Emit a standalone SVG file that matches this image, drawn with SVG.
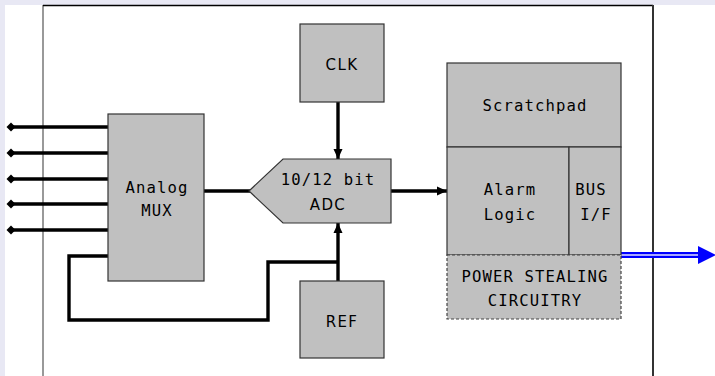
<svg xmlns="http://www.w3.org/2000/svg" width="715" height="376" viewBox="0 0 715 376">
  <style>
    .blk { fill: #c0c0c0; stroke: #333333; stroke-width: 1.2; }
    .dash { fill: #c0c0c0; stroke: #444444; stroke-width: 1.2; stroke-dasharray: 3 2; }
    .wire { fill: none; stroke: #000000; stroke-width: 3.4; stroke-linejoin: miter; }
    .mono { font-family: "DejaVu Sans Mono", "Liberation Mono", monospace; font-size: 15.6px; letter-spacing: 1.1px; fill: #000000; text-anchor: middle; }
    .sans { font-family: "DejaVu Sans", "Liberation Sans", sans-serif; font-size: 15px; letter-spacing: 1.4px; fill: #000000; text-anchor: middle; }
  </style>
  <defs>
    <marker id="pin" markerUnits="userSpaceOnUse" markerWidth="12" markerHeight="12" refX="6" refY="6" orient="auto">
      <path d="M1.5,6 L6,1.5 L10.5,6 L6,10.5 Z" fill="#000000"/>
    </marker>
    <marker id="arrow" markerUnits="userSpaceOnUse" markerWidth="12" markerHeight="12" refX="10" refY="6" orient="auto">
      <path d="M0,1.5 L10,6 L0,10.5 Z" fill="#000000"/>
    </marker>
  </defs>

  <!-- page margin and chip outline -->
  <rect x="0" y="0" width="715" height="376" fill="#ffffff"/>
  <rect x="0" y="0" width="715" height="5" fill="#e8e8f4"/>
  <rect x="0" y="0" width="5" height="376" fill="#e8e8f4"/>
  <line x1="43" y1="5" x2="43" y2="376" stroke="#777777" stroke-width="1.5"/>
  <line x1="43" y1="5.5" x2="653" y2="5.5" stroke="#000000" stroke-width="1.5"/>
  <line x1="653" y1="5" x2="653" y2="376" stroke="#333333" stroke-width="2"/>

  <!-- connectors -->
  <g id="connectors">
    <line class="wire" x1="11" y1="127" x2="108" y2="127" marker-start="url(#pin)"/>
    <line class="wire" x1="11" y1="153" x2="108" y2="153" marker-start="url(#pin)"/>
    <line class="wire" x1="11" y1="179" x2="108" y2="179" marker-start="url(#pin)"/>
    <line class="wire" x1="11" y1="204" x2="108" y2="204" marker-start="url(#pin)"/>
    <line class="wire" x1="11" y1="230" x2="108" y2="230" marker-start="url(#pin)"/>
    <polyline class="wire" points="108,256 69,256 69,320 268,320 268,262 338,262"/>
    <line class="wire" x1="204" y1="191" x2="250" y2="191"/>
    <line class="wire" x1="338" y1="102" x2="338" y2="159" marker-end="url(#arrow)"/>
    <line class="wire" x1="338" y1="281" x2="338" y2="223" marker-end="url(#arrow)"/>
    <line class="wire" x1="391" y1="191" x2="447" y2="191" marker-end="url(#arrow)"/>
    <!-- bus output -->
    <line x1="621" y1="255" x2="700" y2="255" stroke="#0000ff" stroke-width="6"/>
    <line x1="621" y1="255" x2="700" y2="255" stroke="#a8a8ff" stroke-width="2"/>
    <path d="M698,246 L716,255 L698,264 Z" fill="#0000ff"/>
  </g>

  <g id="mux">
    <rect class="blk" x="108" y="114" width="96" height="167"/>
    <text class="mono" x="157" y="193">Analog</text>
    <text class="mono" x="157" y="216">MUX</text>
  </g>

  <g id="adc">
    <path class="blk" d="M249,191 L283,159 L391,159 L391,223 L283,223 Z"/>
    <text class="mono" x="328" y="185">10/12 bit</text>
    <text class="sans" x="328" y="210">ADC</text>
  </g>

  <g id="clk">
    <rect class="blk" x="300" y="24" width="84" height="78"/>
    <text class="sans" x="342" y="70">CLK</text>
  </g>

  <g id="ref">
    <rect class="blk" x="300" y="281" width="84" height="77"/>
    <text class="sans" x="342" y="327">REF</text>
  </g>

  <g id="scratchpad">
    <rect class="blk" x="447" y="63" width="174" height="84"/>
    <text class="mono" x="535" y="111">Scratchpad</text>
  </g>

  <g id="alarm-logic">
    <rect class="blk" x="447" y="147" width="122" height="108"/>
    <text class="mono" x="510" y="195">Alarm</text>
    <text class="mono" x="510" y="220">Logic</text>
  </g>

  <g id="bus-if">
    <rect class="blk" x="569" y="147" width="52" height="108"/>
    <text class="mono" x="591" y="195">BUS</text>
    <text class="mono" x="596" y="220">I/F</text>
  </g>

  <g id="power-stealing">
    <rect class="dash" x="447" y="255" width="174" height="64"/>
    <text class="mono" x="535" y="282">POWER STEALING</text>
    <text class="mono" x="535" y="306">CIRCUITRY</text>
  </g>
</svg>
